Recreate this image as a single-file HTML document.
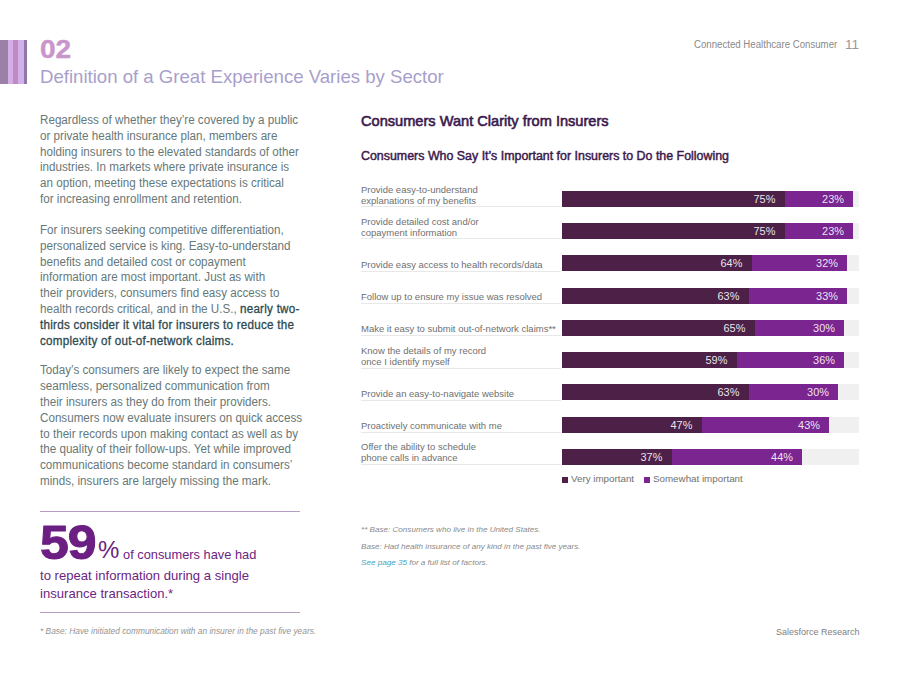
<!DOCTYPE html>
<html><head><meta charset="utf-8">
<style>
*{margin:0;padding:0;box-sizing:border-box}
html,body{width:900px;height:674px;background:#fff;overflow:hidden}
body{position:relative;font-family:"Liberation Sans",sans-serif}
.abs{position:absolute;white-space:nowrap}
.stripe{position:absolute;top:40px;height:44px}
#num{left:40px;top:34px;font-size:25.5px;font-weight:bold;color:#c896cb;line-height:30px;transform:scaleX(1.1);transform-origin:0 0;-webkit-text-stroke:0.4px #c896cb}
#title{left:40px;top:66px;font-size:18.6px;color:#a8a0cc;line-height:22px}
#hdr{left:694px;top:39px;font-size:10px;color:#8a8a8a;line-height:12px;transform:scaleX(0.965);transform-origin:0 0}
#pg{left:845px;top:37px;font-size:13.5px;color:#999;line-height:16px}
.body{position:absolute;left:40px;font-size:12px;color:#667878;line-height:15.8px;white-space:nowrap;transform:scaleX(0.97);transform-origin:0 0}
.body b{color:#2d4a50;font-weight:normal;-webkit-text-stroke:0.3px #2d4a50;letter-spacing:0.26px}
#ct{left:361px;top:112px;font-size:14.6px;font-weight:normal;-webkit-text-stroke:0.6px #3c1a4d;color:#3c1a4d;line-height:18px;transform:scaleX(1.0);transform-origin:0 0}
#cs{left:361px;top:148px;font-size:12px;font-weight:normal;-webkit-text-stroke:0.45px #3c1a4d;color:#3c1a4d;line-height:16px;transform:scaleX(1.034);transform-origin:0 0}
.lab{position:absolute;left:361px;font-size:9.5px;color:#707070;line-height:11px;white-space:nowrap}
.sep{position:absolute;left:361px;width:200px;height:1px;background:#e8e8e8}
.track{position:absolute;left:562px;width:297px;height:16px;background:#f0f0f0}
.d{position:absolute;top:0;left:0;height:16px;background:#4d2147}
.l{position:absolute;top:0;height:16px;background:#7a2590}
.l .pct{padding-right:8.5px}
.pct{position:absolute;top:0;font-size:10.2px;color:rgba(255,255,255,0.9);line-height:17px;text-align:right;padding-right:9px;transform:scaleX(1.07);transform-origin:100% 0}
.leg{position:absolute;top:473px;font-size:9.5px;color:#707070;line-height:11px;white-space:nowrap;transform:scaleX(1.03);transform-origin:0 0}
.sq{position:absolute;top:477px;width:6px;height:6px}
.fn{position:absolute;left:361px;font-size:8.1px;font-style:italic;color:#8a8a8a;line-height:10px;white-space:nowrap}
</style></head><body>
<div class="stripe" style="left:0;width:8px;background:#9b80a8"></div>
<div class="stripe" style="left:8px;width:5px;background:#d4aee6"></div>
<div class="stripe" style="left:13px;width:5px;background:#c18ac4"></div>
<div class="stripe" style="left:18px;width:6px;background:#d2b0ea"></div>
<div class="stripe" style="left:24px;width:3px;background:#8f78a8"></div>

<div id="num" class="abs">02</div>
<div id="title" class="abs">Definition of a Great Experience Varies by Sector</div>
<div id="hdr" class="abs">Connected Healthcare Consumer</div>
<div id="pg" class="abs">11</div>

<div class="body" style="top:113px">Regardless of whether they’re covered by a public<br>or private health insurance plan, members are<br>holding insurers to the elevated standards of other<br>industries. In markets where private insurance is<br>an option, meeting these expectations is critical<br>for increasing enrollment and retention.</div>
<div class="body" style="top:223px">For insurers seeking competitive differentiation,<br>personalized service is king. Easy-to-understand<br>benefits and detailed cost or copayment<br>information are most important. Just as with<br>their providers, consumers find easy access to<br>health records critical, and in the U.S., <b>nearly two-</b><br><b>thirds consider it vital for insurers to reduce the</b><br><b>complexity of out-of-network claims.</b></div>
<div class="body" style="top:363.4px">Today’s consumers are likely to expect the same<br>seamless, personalized communication from<br>their insurers as they do from their providers.<br>Consumers now evaluate insurers on quick access<br>to their records upon making contact as well as by<br>the quality of their follow-ups. Yet while improved<br>communications become standard in consumers’<br>minds, insurers are largely missing the mark.</div>

<div class="abs" style="left:40px;top:511px;width:260px;height:1px;background:#b89cc4"></div>
<div class="abs" style="left:40px;top:518px;font-size:48px;font-weight:bold;color:#6c1f82;line-height:50px;transform:scaleX(1.08);transform-origin:0 0;-webkit-text-stroke:1px #6c1f82;letter-spacing:-1px">59</div>
<div class="abs" style="left:98px;top:537px;font-size:24px;color:#6c2482;line-height:26px">%</div>
<div class="abs" style="left:123px;top:547px;font-size:13.5px;color:#6c2482;line-height:16px;transform:scaleX(0.95);transform-origin:0 0">of consumers have had</div>
<div class="abs" style="left:40px;top:567px;font-size:13.5px;color:#6c2482;line-height:18px;transform:scaleX(0.97);transform-origin:0 0">to repeat information during a single<br>insurance transaction.*</div>
<div class="abs" style="left:40px;top:612px;width:260px;height:1px;background:#b89cc4"></div>
<div class="abs" style="left:40px;top:627px;font-size:8.2px;font-style:italic;color:#939393;line-height:10px;transform:scaleX(1.02);transform-origin:0 0">* Base: Have initiated communication with an insurer in the past five years.</div>

<div id="ct" class="abs">Consumers Want Clarity from Insurers</div>
<div id="cs" class="abs">Consumers Who Say It’s Important for Insurers to Do the Following</div>

<!-- rows -->
<div class="lab" style="top:183.5px">Provide easy-to-understand<br>explanations of my benefits</div>
<div class="sep" style="top:206px"></div>
<div class="track" style="top:191px"><div class="d" style="width:223px"><div class="pct" style="width:223px">75%</div></div><div class="l" style="left:223px;width:68px"><div class="pct" style="width:68px">23%</div></div></div>

<div class="lab" style="top:215.5px">Provide detailed cost and/or<br>copayment information</div>
<div class="sep" style="top:238px"></div>
<div class="track" style="top:223px"><div class="d" style="width:223px"><div class="pct" style="width:223px">75%</div></div><div class="l" style="left:223px;width:68px"><div class="pct" style="width:68px">23%</div></div></div>

<div class="lab" style="top:259.25px">Provide easy access to health records/data</div>
<div class="sep" style="top:271px"></div>
<div class="track" style="top:255px"><div class="d" style="width:190px"><div class="pct" style="width:190px">64%</div></div><div class="l" style="left:190px;width:95px"><div class="pct" style="width:95px">32%</div></div></div>

<div class="lab" style="top:291.25px">Follow up to ensure my issue was resolved</div>
<div class="sep" style="top:303px"></div>
<div class="track" style="top:288px"><div class="d" style="width:187px"><div class="pct" style="width:187px">63%</div></div><div class="l" style="left:187px;width:98px"><div class="pct" style="width:98px">33%</div></div></div>

<div class="lab" style="top:323.25px">Make it easy to submit out-of-network claims**</div>
<div class="sep" style="top:335px"></div>
<div class="track" style="top:320px"><div class="d" style="width:193px"><div class="pct" style="width:193px">65%</div></div><div class="l" style="left:193px;width:89px"><div class="pct" style="width:89px">30%</div></div></div>

<div class="lab" style="top:344.5px">Know the details of my record<br>once I identify myself</div>
<div class="sep" style="top:368px"></div>
<div class="track" style="top:352px"><div class="d" style="width:175px"><div class="pct" style="width:175px">59%</div></div><div class="l" style="left:175px;width:107px"><div class="pct" style="width:107px">36%</div></div></div>

<div class="lab" style="top:388.25px">Provide an easy-to-navigate website</div>
<div class="sep" style="top:400px"></div>
<div class="track" style="top:384px"><div class="d" style="width:187px"><div class="pct" style="width:187px">63%</div></div><div class="l" style="left:187px;width:89px"><div class="pct" style="width:89px">30%</div></div></div>

<div class="lab" style="top:420.25px">Proactively communicate with me</div>
<div class="sep" style="top:432px"></div>
<div class="track" style="top:417px"><div class="d" style="width:140px"><div class="pct" style="width:140px">47%</div></div><div class="l" style="left:140px;width:127px"><div class="pct" style="width:127px">43%</div></div></div>

<div class="lab" style="top:440.5px">Offer the ability to schedule<br>phone calls in advance</div>
<div class="sep" style="top:464px"></div>
<div class="track" style="top:449px"><div class="d" style="width:110px"><div class="pct" style="width:110px">37%</div></div><div class="l" style="left:110px;width:130px"><div class="pct" style="width:130px">44%</div></div></div>

<div class="sq" style="left:562px;background:#4d2147"></div>
<div class="leg" style="left:571px">Very important</div>
<div class="sq" style="left:644px;background:#7a2590"></div>
<div class="leg" style="left:653px">Somewhat important</div>

<div class="fn" style="top:525px">** Base: Consumers who live in the United States.</div>
<div class="fn" style="top:542px">Base: Had health insurance of any kind in the past five years.</div>
<div class="fn" style="top:558px"><span style="color:#3ea6c8">See page 35</span> for a full list of factors.</div>

<div class="abs" style="left:776px;top:626px;font-size:9px;color:#808080;line-height:12px">Salesforce Research</div>
</body></html>
